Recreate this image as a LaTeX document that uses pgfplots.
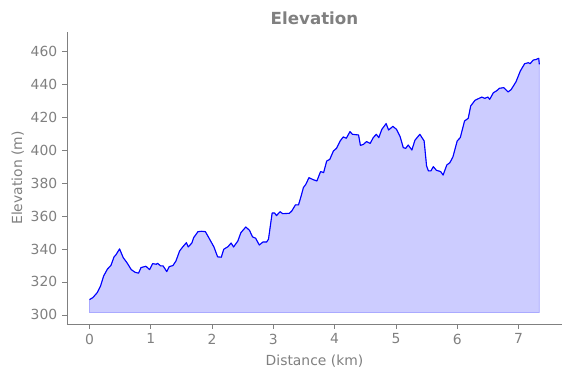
\documentclass[border=0pt]{standalone}
\usepackage{pgfplots}
\pgfplotsset{compat=1.18}
\usepackage{pgfplotstable}
\usepackage{fontspec}
\setmainfont{DejaVu Sans}
\definecolor{txtgray}{HTML}{808080}
\definecolor{fillc}{HTML}{CCCCFF}
\definecolor{edgec}{HTML}{AAAAFF}
\pgfplotstableread{
x y
0.00 301.5
0.00 309.3
0.054 310.5
0.125 313.5
0.18 317.6
0.23 323.6
0.29 327.7
0.35 330.1
0.40 335.2
0.43 336.4
0.49 340.0
0.55 334.7
0.61 331.7
0.68 327.5
0.74 325.9
0.80 325.3
0.84 328.7
0.92 329.5
0.98 327.5
1.03 331.1
1.09 330.7
1.11 331.3
1.16 329.7
1.20 329.7
1.26 326.3
1.30 329.3
1.36 329.9
1.41 332.7
1.47 338.8
1.52 341.2
1.58 343.8
1.61 341.2
1.67 343.6
1.70 346.9
1.77 350.5
1.83 350.7
1.89 350.5
1.96 345.9
2.03 341.2
2.09 335.2
2.15 335.0
2.19 339.8
2.26 341.4
2.31 343.6
2.35 341.2
2.42 344.8
2.47 349.9
2.55 353.3
2.61 351.3
2.66 347.3
2.71 346.5
2.77 342.4
2.83 344.2
2.89 344.2
2.92 345.9
2.98 361.8
3.02 361.8
3.05 360.2
3.11 362.6
3.15 361.4
3.26 361.6
3.30 363.0
3.36 366.7
3.41 366.7
3.45 371.7
3.49 377.2
3.53 379.2
3.58 383.2
3.65 382.0
3.71 381.2
3.77 386.9
3.82 386.3
3.87 393.3
3.92 394.3
3.98 399.4
4.03 401.0
4.09 405.5
4.14 407.9
4.19 407.1
4.25 411.1
4.29 409.5
4.39 409.1
4.42 402.8
4.47 403.4
4.52 405.1
4.58 404.0
4.63 407.5
4.68 409.5
4.72 407.5
4.77 412.5
4.84 416.0
4.88 412.1
4.95 414.3
5.01 412.5
5.07 407.9
5.12 401.4
5.16 401.0
5.20 403.0
5.26 400.0
5.31 405.9
5.39 409.5
5.46 405.5
5.50 390.3
5.53 387.3
5.57 387.3
5.61 389.9
5.66 387.7
5.73 386.9
5.77 384.8
5.83 390.9
5.88 392.3
5.93 395.8
6.00 405.5
6.05 407.5
6.12 417.6
6.18 419.2
6.22 426.7
6.29 430.1
6.40 432.1
6.45 431.3
6.50 432.1
6.53 430.7
6.59 434.7
6.64 435.8
6.69 437.4
6.76 437.8
6.83 435.2
6.88 436.6
6.96 441.4
7.03 447.9
7.10 452.3
7.16 452.9
7.19 452.3
7.24 454.5
7.29 454.9
7.33 455.6
7.34 451.9
7.34 301.5
}\elev
\begin{document}
\begin{tikzpicture}
\begin{axis}[
  at={(0,0)}, anchor=south west,
  scale only axis,
  width=356.4pt, height=210.2pt,
  xmin=-0.368, xmax=7.71,
  ymin=294.5, ymax=471.5,
  axis x line*=bottom, axis y line*=left,
  axis line style={-, draw=txtgray},
  xtick={0,1,...,7}, ytick={300,320,...,460},
  tick align=outside, major tick length=3.5pt,
  tick style={draw=txtgray, line width=0.6pt},
  every tick label/.append style={font=\fontsize{10}{12}\selectfont, text=txtgray},
  /pgf/number format/assume math mode=true,
  title={\textbf{Elevation}},
  title style={font=\fontsize{12}{14}\selectfont, text=txtgray, yshift=-4pt},
  xlabel={Distance (km)}, ylabel={Elevation (m)},
  label style={font=\fontsize{10}{12}\selectfont, text=txtgray},
  xlabel style={yshift=-1pt},
  ylabel style={yshift=-2pt},
]
\addplot[fill=fillc, draw=edgec, line width=0.6pt, forget plot] table[x=x,y=y] {\elev} -- cycle;
\addplot[blue, line width=0.8pt, line join=round, unbounded coords=discard,
  y filter/.expression={y<302 ? nan : y}] table[x=x,y=y] {\elev};
\end{axis}
\path[use as bounding box] (-48.24pt,-38.88pt) rectangle (362.88pt,233.28pt);
\end{tikzpicture}
\end{document}
